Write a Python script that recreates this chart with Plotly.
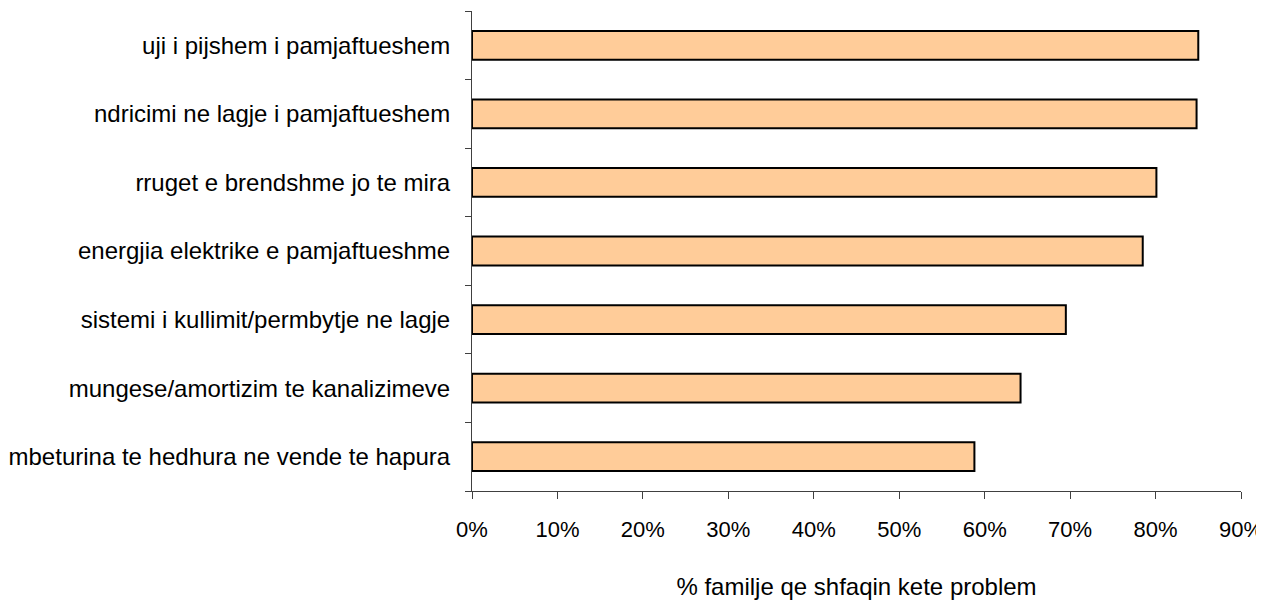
import plotly.graph_objects as go

categories = [
    "mbeturina te hedhura ne vende te hapura",
    "mungese/amortizim te kanalizimeve",
    "sistemi i kullimit/permbytje ne lagje",
    "energjia elektrike e pamjaftueshme",
    "rruget e brendshme jo te mira",
    "ndricimi ne lagje i pamjaftueshem",
    "uji i pijshem i pamjaftueshem",
]
shares = [0.588, 0.642, 0.695, 0.785, 0.801, 0.848, 0.850]
x_ticks = [i / 10 for i in range(10)]
x_title = "% familje qe shfaqin kete problem"

BAR_FILL = "#FFCC99"
AXIS_COLOR = "#404040"
FONT = "Liberation Sans, Arial, sans-serif"

fig = go.Figure(
    go.Bar(
        x=shares,
        y=categories,
        orientation="h",
        marker={
            "color": BAR_FILL,
            "line": {"color": "#000000", "width": 2},
        },
        hovertemplate="%{y}: %{x:.0%}<extra></extra>",
    )
)

# page body has an 8px margin, so the figure is a bit smaller than the window
fig.update_layout(
    width=1256,
    height=592,
    template="plotly_white",
    paper_bgcolor="white",
    plot_bgcolor="white",
    margin={"l": 464, "r": 23, "t": 3, "b": 109, "autoexpand": False},
    bargap=0.58,
    showlegend=False,
    font={"family": FONT, "size": 22, "color": "#000000"},
)
fig.update_xaxes(
    range=[0, 0.9],
    tickvals=x_ticks,
    tickformat=".0%",
    tickfont={"size": 22},
    showgrid=False,
    zeroline=False,
    showline=True,
    linecolor=AXIS_COLOR,
    linewidth=1,
    ticks="outside",
    ticklen=7,
    tickcolor=AXIS_COLOR,
    ticklabelstandoff=12,
    automargin=False,
    title={"text": x_title, "standoff": 41, "font": {"size": 24}},
)
fig.update_yaxes(
    tickfont={"size": 24},
    showgrid=False,
    zeroline=False,
    showline=True,
    linecolor=AXIS_COLOR,
    linewidth=1,
    ticks="outside",
    tickson="boundaries",
    ticklen=6,
    tickcolor=AXIS_COLOR,
    ticklabelstandoff=16,
    automargin=False,
)

fig.write_html("out.html")
